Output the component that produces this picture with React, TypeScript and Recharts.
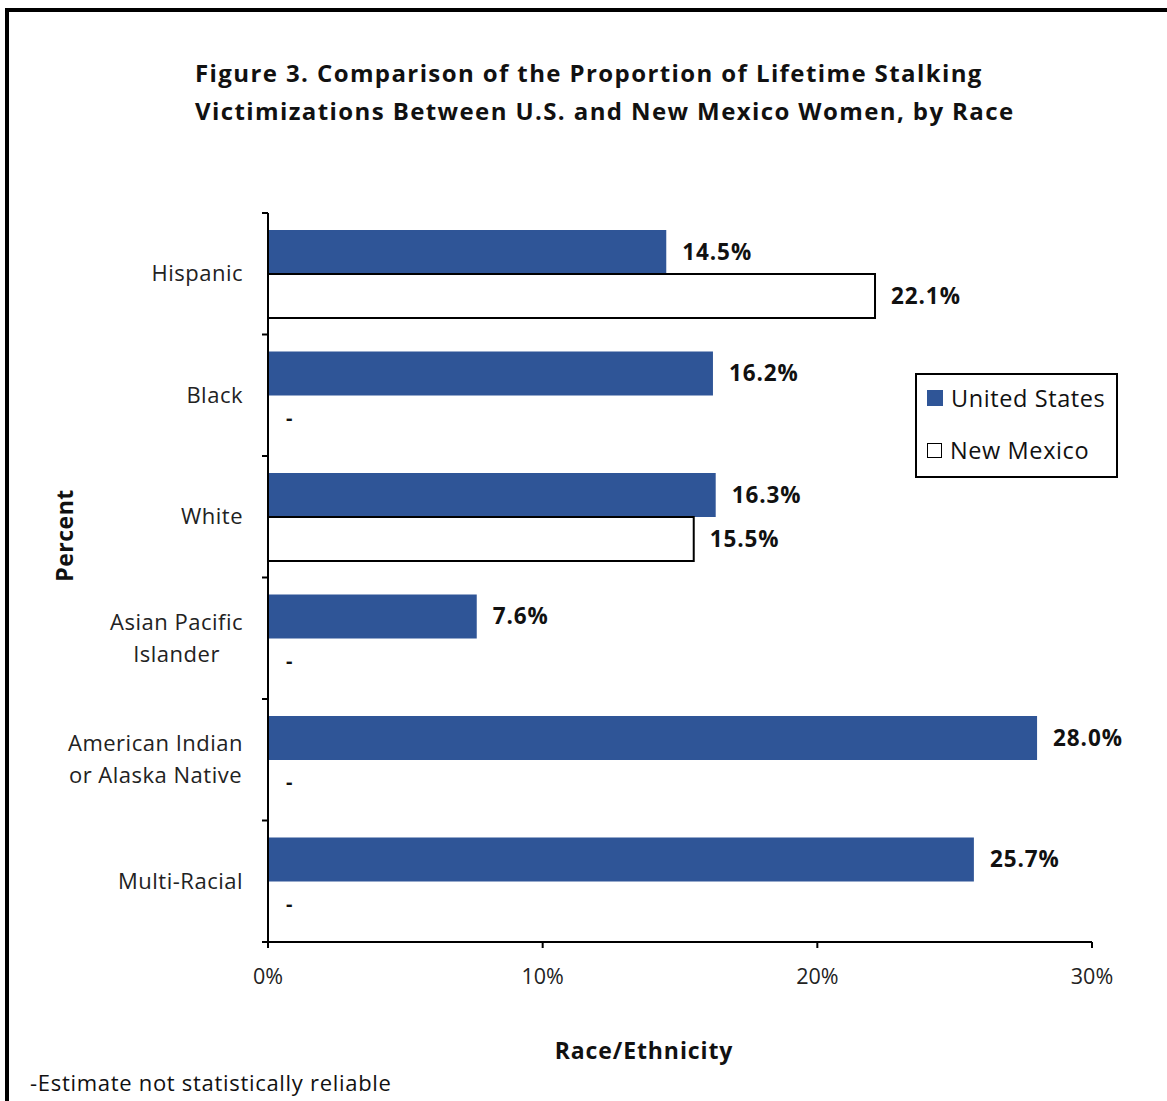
import React from "react";
import { BarChart, Bar, XAxis, YAxis, Legend, LabelList } from "recharts";

const races = [
  "Hispanic",
  "Black",
  "White",
  "Asian Pacific\nIslander",
  "American Indian\nor Alaska Native",
  "Multi-Racial",
];
const unitedStates = [14.5, 16.2, 16.3, 7.6, 28.0, 25.7];
// null = estimate not statistically reliable, shown as "-"
const newMexico: (number | null)[] = [22.1, null, 15.5, null, null, null];
const percentTicks = [0, 10, 20, 30];
const legendOrder = ["us", "nm"];

const data = races.map((race, i) => ({
  race,
  us: unitedStates[i],
  nm: newMexico[i],
}));

const FONT = "'Open Sans', 'Noto Sans', sans-serif";
const BLUE = "#2F5597";
const TOP = 213;
const PLOT_H = 729;
const CAT_SPACING = 0.5;

let measureCtx: CanvasRenderingContext2D | null = null;
function textWidth(s: string, font: string) {
  if (!measureCtx) measureCtx = document.createElement("canvas").getContext("2d");
  if (!measureCtx) return s.length * 11;
  measureCtx.font = font;
  return measureCtx.measureText(s).width + s.length * CAT_SPACING;
}

function CategoryTick(props: any) {
  const { x, y, payload, index } = props;
  const lines = String(payload.value).split("\n");
  const lineH = 32;
  const w = Math.max(...lines.map((l) => textWidth(l, `22px ${FONT}`)));
  const cx = x - w / 2;
  const y0 = y - ((lines.length - 1) * lineH) / 2;
  // Excel style: tick marks sit between categories, not at their centres
  const half = PLOT_H / races.length / 2;
  const axisX = x + 6 + 19;
  return (
    <g>
      <line x1={axisX - 6} x2={axisX} y1={y - half} y2={y - half} stroke="#000" strokeWidth={2} />
      {index === races.length - 1 && (
        <line x1={axisX - 6} x2={axisX} y1={y + half} y2={y + half} stroke="#000" strokeWidth={2} />
      )}
      <text fontFamily={FONT} fontSize={22} letterSpacing={CAT_SPACING} fill="#222" textAnchor="middle">
        {lines.map((l, i) => (
          <tspan key={i} x={cx} y={y0 + i * lineH} dy="0.35em">
            {l}
          </tspan>
        ))}
      </text>
    </g>
  );
}

function UsLabel(props: any) {
  const { x, y, width, height, value, index } = props;
  const cy = y + height / 2;
  const missing = newMexico[index] === null;
  return (
    <g>
      <text
        x={x + width + 16}
        y={cy}
        dy="0.35em"
        fontFamily={FONT}
        fontSize={22.5}
        letterSpacing={0.9}
        fontWeight="bold"
        fill="#111"
      >
        {Number(value).toFixed(1)}%
      </text>
      {missing && (
        <text x={x + 18} y={cy + height} dy="0.35em" fontFamily={FONT} fontSize={20} fontWeight="bold" fill="#111">
          -
        </text>
      )}
    </g>
  );
}

function NmLabel(props: any) {
  const { x, y, width, height, value } = props;
  if (value === null || value === undefined) return null;
  return (
    <text
      x={x + width + 16}
      y={y + height / 2}
      dy="0.35em"
      fontFamily={FONT}
      fontSize={22.5}
      letterSpacing={0.9}
      fontWeight="bold"
      fill="#111"
    >
      {Number(value).toFixed(1)}%
    </text>
  );
}

function LegendBox({ payload }: any) {
  const items = [...(payload || [])].sort(
    (a: any, b: any) => legendOrder.indexOf(a.dataKey) - legendOrder.indexOf(b.dataKey)
  );
  return (
    <div
      style={{
        border: "2px solid #000",
        width: 199,
        height: 101,
        background: "#fff",
        fontFamily: FONT,
        fontSize: 23.5,
        letterSpacing: 0.6,
        color: "#111",
        boxSizing: "content-box",
      }}
    >
      {items.map((entry: any, i: number) => {
        const hollow = entry.dataKey === "nm";
        return (
          <div
            key={entry.value}
            style={{ display: "flex", alignItems: "center", height: 28, marginTop: i === 0 ? 9 : 24, marginLeft: 10 }}
          >
            <span
              style={{
                width: hollow ? 13 : 16,
                height: hollow ? 13 : 16,
                background: hollow ? "#fff" : entry.color,
                border: hollow ? "1.5px solid #000" : "none",
                marginRight: 8,
                display: "inline-block",
                flexShrink: 0,
              }}
            />
            <span style={{ whiteSpace: "nowrap" }}>{entry.value}</span>
          </div>
        );
      })}
    </div>
  );
}

export default function App() {
  return (
    <div
      style={{
        position: "absolute",
        left: 0,
        top: 0,
        width: 1167,
        height: 1101,
        overflow: "hidden",
        background: "#fff",
      }}
    >
      <div
        style={{
          position: "absolute",
          left: 5,
          top: 8,
          width: 1300,
          height: 1300,
          border: "4px solid #000",
        }}
      />
      <div
        style={{
          position: "absolute",
          left: 195,
          top: 54,
          fontFamily: FONT,
          fontWeight: "bold",
          fontSize: 24,
          letterSpacing: 1.4,
          lineHeight: "38px",
          color: "#111",
          whiteSpace: "pre",
        }}
      >
        {"Figure 3. Comparison of the Proportion of Lifetime Stalking\nVictimizations Between U.S. and New Mexico Women, by Race"}
      </div>
      <div
        style={{
          position: "absolute",
          left: 30,
          top: 1068,
          fontFamily: FONT,
          fontSize: 22,
          letterSpacing: 0.7,
          lineHeight: "28px",
          color: "#111",
          whiteSpace: "pre",
        }}
      >
        -Estimate not statistically reliable
      </div>
      <div style={{ position: "absolute", left: 0, top: 0 }}>
        <BarChart
          width={1167}
          height={1101}
          data={data}
          layout="vertical"
          margin={{ top: TOP, right: 75, bottom: 99, left: 18 }}
          barCategoryGap="14%"
          barGap={0}
        >
          <XAxis
            type="number"
            domain={[0, 30]}
            ticks={percentTicks}
            tickFormatter={(v: number) => `${v}%`}
            height={60}
            axisLine={{ stroke: "#000", strokeWidth: 2 }}
            tickLine={{ stroke: "#000", strokeWidth: 2 }}
            tickSize={6}
            tickMargin={21}
            tick={{ fontFamily: FONT, fontSize: 21.5, fill: "#222" }}
            label={{
              value: "Race/Ethnicity",
              content: ({ viewBox }: any) => (
                <text
                  x={viewBox.x + viewBox.width / 2 - 36}
                  y={viewBox.y + 109}
                  dy="0.35em"
                  textAnchor="middle"
                  fontFamily={FONT}
                  fontSize={23}
                  letterSpacing={0.9}
                  fontWeight="bold"
                  fill="#111"
                >
                  Race/Ethnicity
                </text>
              ),
            }}
          />
          <YAxis
            type="category"
            dataKey="race"
            width={250}
            axisLine={{ stroke: "#000", strokeWidth: 2 }}
            tickLine={false}
            tickSize={6}
            tickMargin={19}
            tick={<CategoryTick />}
            interval={0}
            label={{
              value: "Percent",
              content: ({ viewBox }: any) => {
                const lx = viewBox.x + 47;
                const ly = viewBox.y + viewBox.height / 2 - 42;
                return (
                  <text
                    x={lx}
                    y={ly}
                    dy="0.35em"
                    transform={`rotate(-90 ${lx} ${ly})`}
                    textAnchor="middle"
                    fontFamily={FONT}
                    fontSize={23}
                    letterSpacing={0.5}
                    fontWeight="bold"
                    fill="#111"
                  >
                    Percent
                  </text>
                );
              },
            }}
          />
          <Legend
            layout="horizontal"
            verticalAlign="middle"
            align="center"
            content={<LegendBox />}
            wrapperStyle={{ position: "absolute", left: 915, top: 373, width: 203, height: 105 }}
          />
          <Bar dataKey="us" name="United States" fill={BLUE} isAnimationActive={false}>
            <LabelList dataKey="us" content={<UsLabel />} />
          </Bar>
          <Bar
            dataKey="nm"
            name="New Mexico"
            fill="#fff"
            stroke="#000"
            strokeWidth={2}
            isAnimationActive={false}
          >
            <LabelList dataKey="nm" content={<NmLabel />} />
          </Bar>
        </BarChart>
      </div>
    </div>
  );
}
